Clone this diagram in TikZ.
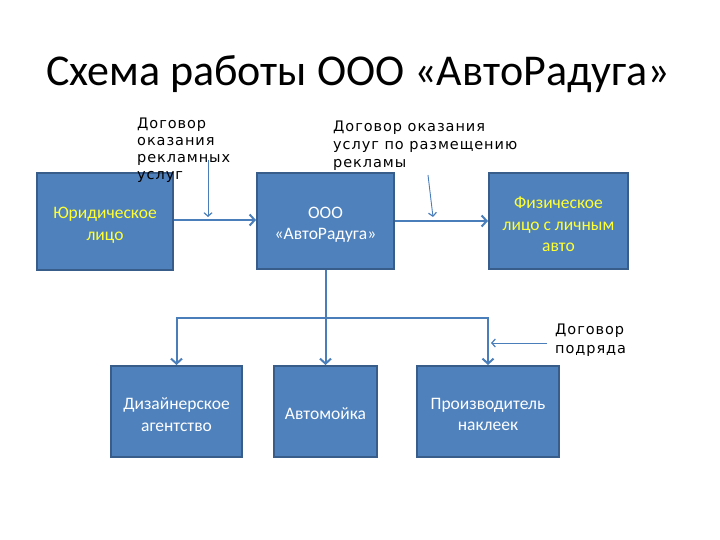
\documentclass[tikz,border=0pt]{standalone}
\usepackage{fontspec}
\setmainfont{Carlito}
\newfontfamily\labfont[LetterSpace=6.5]{DejaVu Sans}
\usetikzlibrary{arrows.meta}
\definecolor{boxfill}{HTML}{4F81BD}
\definecolor{boxdraw}{HTML}{385D8A}
\definecolor{linecol}{HTML}{4A7EBB}
\definecolor{yeltext}{HTML}{FFFF33}
\tikzset{
  box/.style={draw=boxdraw, line width=2pt, fill=boxfill, inner sep=0pt},
  boxtext/.style={text=white, align=center, font=\fontsize{17.5}{21.5}\selectfont, inner sep=0pt},
  conn/.style={draw=linecol, line width=2pt, -{Straight Barb[length=5pt,width=11pt,line width=2pt]}},
  thinconn/.style={draw=linecol, line width=0.9pt, -{Straight Barb[length=3.5pt,width=8pt,line width=1.2pt]}},
  lab/.style={font=\labfont\fontsize{14.5}{18}\selectfont, align=left, inner sep=0pt, anchor=north west}
}
\begin{document}
\begin{tikzpicture}[x=1pt,y=-1pt]
\useasboundingbox (0,0) rectangle (720,540);
\node[font=\fontsize{44}{50}\selectfont, anchor=base] (title) at (358,86) {Схема работы ООО «АвтоРадуга»};

\node[box, minimum width=136pt, minimum height=97pt] (yur) at (105,221.5) {};
\node[box, minimum width=137pt, minimum height=96pt] (ooo) at (325.5,221) {};
\node[box, minimum width=139pt, minimum height=96pt] (fiz) at (558.5,221) {};
\node[box, minimum width=131pt, minimum height=91pt] (diz) at (176.5,411.5) {};
\node[box, minimum width=103pt, minimum height=91pt] (moy) at (325.5,411.5) {};
\node[box, minimum width=142pt, minimum height=91pt] (pro) at (488,411.5) {};

\node[boxtext, text=yeltext] (yurt) at ([yshift=-4pt]yur.center) {Юридическое\\лицо};
\node[boxtext] (ooot) at ([yshift=-4pt]ooo.center) {ООО\\«АвтоРадуга»};
\node[boxtext, text=yeltext] (fizt) at ([yshift=-3.5pt]fiz.center) {Физическое\\лицо с личным\\авто};
\node[boxtext] (dizt) at ([yshift=-3pt]diz.center) {Дизайнерское\\агентство};
\node[boxtext] (moyt) at ([yshift=-2pt]moy.center) {Автомойка};
\node[boxtext] (prot) at ([yshift=-3pt]pro.center) {Производитель\\наклеек};

\node[lab, font=\labfont\fontsize{14.5}{17}\selectfont] (l1) at (137,118) {Договор\\оказания\\рекламных\\услуг};
\node[lab] (l2) at (333,121) {Договор оказания\\услуг по размещению\\рекламы};
\node[lab, font=\labfont\fontsize{14.5}{19}\selectfont] (l3) at (555,324) {Договор\\подряда};

\draw[conn] (yur.east |- 0,220) -- (ooo.west |- 0,220);
\draw[conn] (ooo.east |- 0,221) -- (fiz.west |- 0,221);
\coordinate (hub) at (326,318);
\draw[conn] (ooo.south) -- (moy.north);
\draw[conn] (hub) -| (diz.north);
\draw[conn] (hub) -| (pro.north);

\coordinate (a1s) at (208,160);
\coordinate (a1e) at (208,217);
\coordinate (a2s) at (428,175);
\coordinate (a2e) at (433,217);
\coordinate (a3s) at (547,343);
\coordinate (a3e) at (491,343);
\draw[thinconn] (a1s) -- (a1e);
\draw[thinconn] (a2s) -- (a2e);
\draw[thinconn] (a3s) -- (a3e);
\end{tikzpicture}
\end{document}
